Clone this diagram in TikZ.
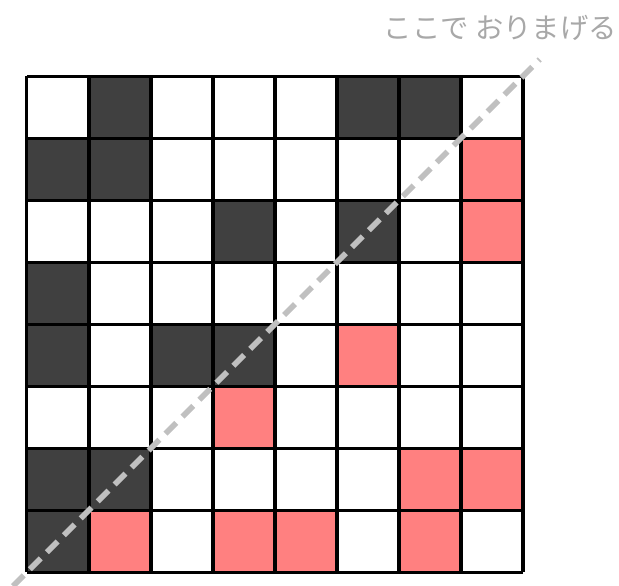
\documentclass[tikz,border=0pt]{standalone}
\usepackage{fontspec}
\newfontfamily\jpfont{Noto Sans CJK JP}
\definecolor{oriDark}{HTML}{404040}
\definecolor{oriPink}{HTML}{FF8080}
\definecolor{oriFold}{HTML}{C0C0C0}
\definecolor{oriText}{HTML}{A8A8A8}
\usetikzlibrary{positioning}
\tikzset{
	celdaOscura/.style={
		fill=oriDark
	},
	celdaRosa/.style={
		fill=oriPink
	},
	rejilla/.style={
		line width=1.4pt,
		black
	},
	pliegue/.style={
		line width=2.6pt,
		oriFold,
		dash pattern=on 7pt off 4pt
	},
	aviso/.style={
		text=oriText,
		inner sep=0pt,
		font=\jpfont\fontsize{13}{15}\selectfont
	}
}

\begin{document}
\begin{tikzpicture}
		\useasboundingbox (-0.435,-0.21) rectangle (9.548,9.226);
		\foreach \c/\r in {1/0,5/0,6/0,0/1,1/1,3/2,5/2,0/3,0/4,2/4,3/4,0/6,1/6,0/7}
			\fill[celdaOscura] (\c,7-\r) rectangle ++(1,1);
		\foreach \c/\r in {7/1,7/2,5/4,3/5,6/6,7/6,1/7,3/7,4/7,6/7}
			\fill[celdaRosa] (\c,7-\r) rectangle ++(1,1);
		\draw[rejilla] (0,0) grid (8,8);
		\coordinate (inicio) at (-0.5,-0.5);
		\coordinate (fin) at (8.27,8.27);
		\draw[pliegue] (inicio) -- (fin);
		\node[aviso, anchor=east] (texto) at (9.52,8.77) {ここで おりまげる};
	\end{tikzpicture}
\end{document}
